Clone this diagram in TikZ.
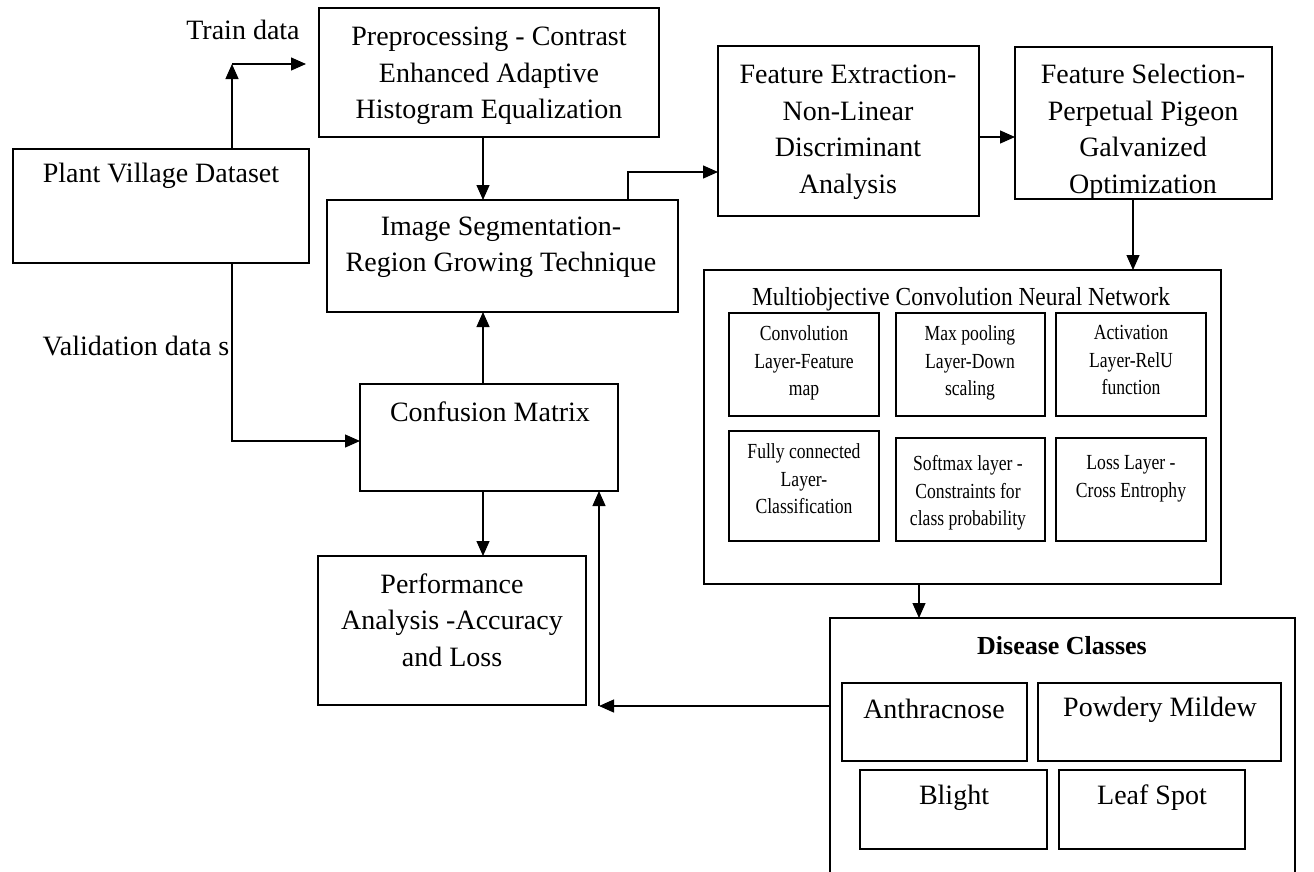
\documentclass[tikz,border=0pt]{standalone}
\usepackage{fontspec}
\setmainfont{Liberation Serif}
\newfontfamily\narrowfont[FakeStretch=0.82]{Liberation Serif}
\newfontfamily\titlefont[FakeStretch=0.9]{Liberation Serif}
\usetikzlibrary{arrows.meta}
\newcommand\mybox[5]{\node[boxst, minimum width=#4pt-#2pt, minimum height=#5pt-#3pt] (#1) at ({(#2+#4)/2},{(#3+#5)/2}) {};}
\begin{document}
\begin{tikzpicture}[x=1pt,y=-1pt,
  boxst/.style={draw, line width=1.3pt, inner sep=0pt, outer sep=0pt},
  big/.style={font=\fontsize{28}{36.5}\selectfont, align=center, inner sep=0pt},
  small/.style={font=\narrowfont\fontsize{21.5}{27.5}\selectfont, align=center, inner sep=0pt},
  arr/.style={line width=1.3pt, -{Triangle[length=15pt,width=13pt]}}]
\useasboundingbox (0,0) rectangle (1314,871);
% boxes
\mybox{pvd}{13}{149}{309}{263}
\mybox{pre}{319}{8}{659}{137}
\mybox{seg}{327}{200}{678}{312}
\mybox{fe}{718}{46}{979}{216}
\mybox{fs}{1015}{47}{1272}{199}
\mybox{mcnn}{704}{270}{1221}{584}
\mybox{c1}{729}{313}{879}{416}
\mybox{c2}{896}{313}{1045}{416}
\mybox{c3}{1056}{313}{1206}{416}
\mybox{c4}{729}{431}{879}{541}
\mybox{c5}{896}{438}{1045}{541}
\mybox{c6}{1056}{438}{1206}{541}
\mybox{conf}{360}{384}{618}{491}
\mybox{perf}{318}{556}{586}{705}
\mybox{dis}{830}{618}{1295}{895}
\mybox{d1}{842}{683}{1027}{761}
\mybox{d2}{1038}{683}{1281}{761}
\mybox{d3}{860}{770}{1047}{849}
\mybox{d4}{1059}{770}{1245}{849}
% texts
\node[big] (tTrain) at (243,30) {Train data};
\node[big] (tVal) at (136,346) {Validation data s};
\node[big] (tPvd) at (161,176) {Plant Village Dataset};
\node[big] (tPre) at (489,76) {Preprocessing - Contrast\\Enhanced Adaptive\\Histogram Equalization};
\node[big] (tSeg) at (501,247) {Image Segmentation-\\Region Growing Technique};
\node[big] (tFe) at (848,132) {Feature Extraction-\\Non-Linear\\Discriminant\\Analysis};
\node[big] (tFs) at (1143,132) {Feature Selection-\\Perpetual Pigeon\\Galvanized\\Optimization};
\node[big] (tConf) at (490,412) {Confusion Matrix};
\node[big] (tPerf) at (452,620) {Performance\\Analysis -Accuracy\\and Loss};
\node[inner sep=0pt, font=\titlefont\fontsize{26}{30}\selectfont] (tMcnn) at (961,299) {Multiobjective Convolution Neural Network};
\node[small] (tc1) at (804,363) {Convolution\\Layer-Feature\\map};
\node[small] (tc2) at (970,363) {Max pooling\\Layer-Down\\scaling};
\node[small] (tc3) at (1131,360) {Activation\\Layer-RelU\\function};
\node[small] (tc4) at (804,479) {Fully connected\\Layer-\\Classification};
\node[small] (tc5) at (968,493) {Softmax layer -\\Constraints for\\class probability};
\node[small] (tc6) at (1131,479) {Loss Layer -\\Cross Entrophy};
\node[inner sep=0pt, font=\bfseries\fontsize{26}{30}\selectfont] (tDis) at (1062,646) {Disease Classes};
\node[big] (td1) at (934,709) {Anthracnose};
\node[big] (td2) at (1160,710) {Powdery Mildew};
\node[big] (td3) at (954,798) {Blight};
\node[big] (td4) at (1152,798) {Leaf Spot};
% helper coordinates
\coordinate (tc) at (232,64);
\coordinate (te) at (306,64);
\coordinate (vc) at (232,441);
\coordinate (x483) at (483,0);
\coordinate (k1) at (628,172);
\coordinate (y137) at (0,137);
\coordinate (x1133) at (1133,0);
\coordinate (x919) at (919,0);
\coordinate (k2) at (599,706);
% connectors
\draw[arr] (pvd.north -| tc) -- (tc);
\draw[arr] (tc) -- (te);
\draw[arr] (pvd.south -| vc) -- (vc) -- (conf.west |- vc);
\draw[arr] (pre.south -| x483) -- (seg.north -| x483);
\draw[arr] (seg.north -| k1) -- (k1) -- (fe.west |- k1);
\draw[arr] (fe.east |- y137) -- (fs.west |- y137);
\draw[arr] (fs.south -| x1133) -- (mcnn.north -| x1133);
\draw[arr] (mcnn.south -| x919) -- (dis.north -| x919);
\draw[arr] (dis.west |- k2) -- (k2);
\draw[arr] (k2) -- (conf.south -| k2);
\draw[arr] (conf.south -| x483) -- (perf.north -| x483);
\draw[arr] (conf.north -| x483) -- (seg.south -| x483);
\end{tikzpicture}
\end{document}
